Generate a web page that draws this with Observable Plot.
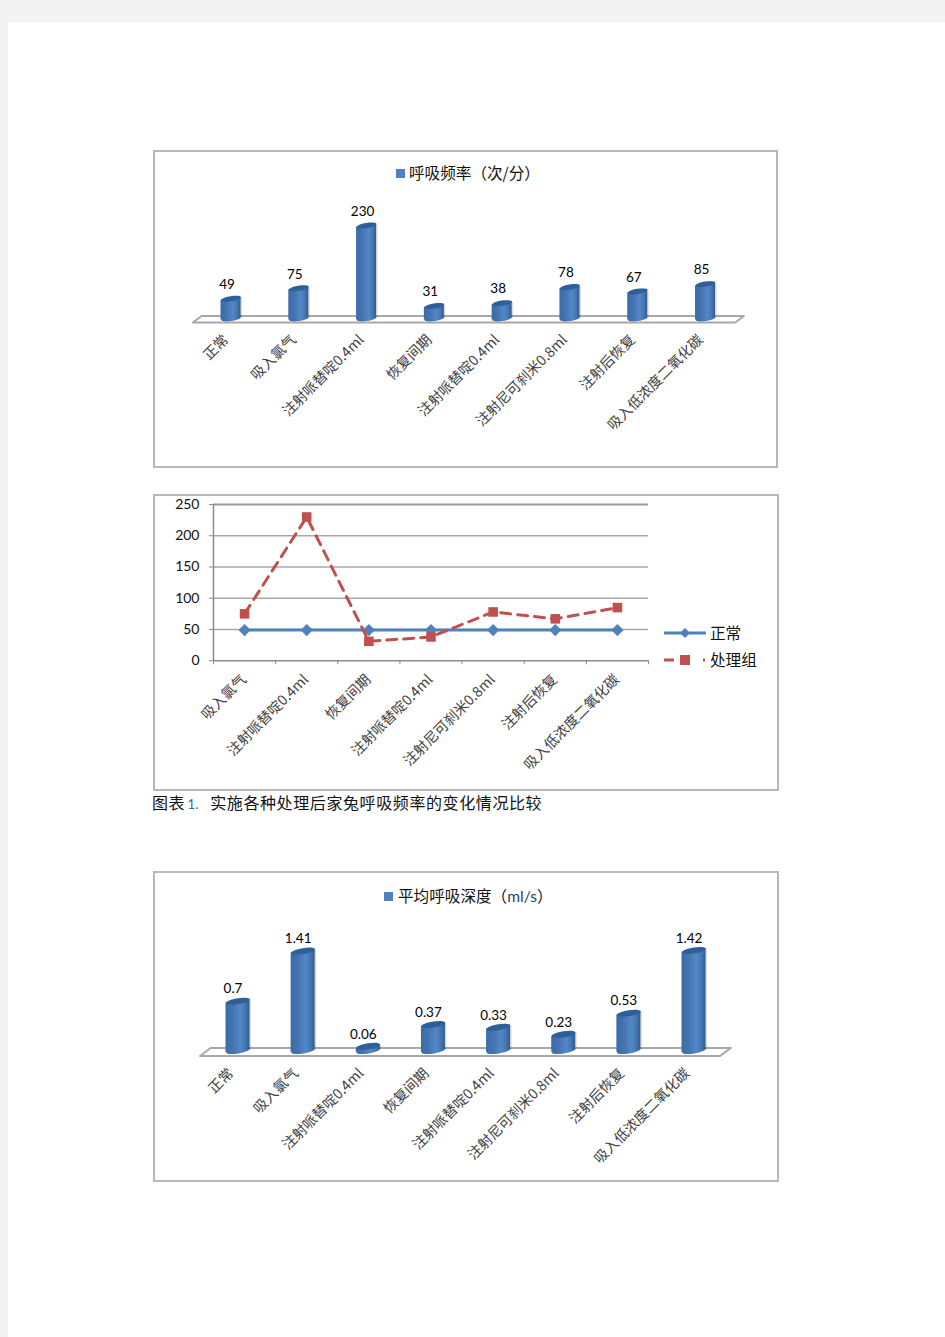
<!DOCTYPE html>
<html lang="zh-CN"><head><meta charset="utf-8">
<script src="https://cdn.jsdelivr.net/npm/d3@7"></script>
<script src="https://cdn.jsdelivr.net/npm/@observablehq/plot@0.6"></script>
<style>
html,body{margin:0;padding:0;background:#fff}
#page{position:relative;width:945px;height:1337px;background:#fff;overflow:hidden;font-family:"Noto Sans CJK SC","Noto Sans",sans-serif;color:#111;text-spacing-trim:space-all}
.band{position:absolute;background:#f3f3f3}
.frame{position:absolute;box-sizing:border-box;border:2px solid #b8b8b8;background:#fff}
.holder{position:absolute}
.legend{position:absolute;font-size:15.6px;line-height:20px;white-space:nowrap}
.sw{position:absolute;width:9px;height:9px;background:#4f81bd}
.latin{font-family:Lato,sans-serif}
svg{display:block}
</style></head><body>
<div id="page"></div>
<script>
// ---------- data ----------
const rateCategories = ["正常","吸入氯气","注射哌替啶0.4ml","恢复间期","注射哌替啶0.4ml","注射尼可刹米0.8ml","注射后恢复","吸入低浓度二氧化碳"];
const rateValues = [49,75,230,31,38,78,67,85];
const rateTitle = "呼吸频率（次/分）";

const compareCategories = ["吸入氯气","注射哌替啶0.4ml","恢复间期","注射哌替啶0.4ml","注射尼可刹米0.8ml","注射后恢复","吸入低浓度二氧化碳"];
const normalValues = [49,49,49,49,49,49,49];
const treatedValues = [75,230,31,38,78,67,85];
const compareTicks = [0,50,100,150,200,250];
const compareNames = ["正常","处理组"];

const depthCategories = ["正常","吸入氯气","注射哌替啶0.4ml","恢复间期","注射哌替啶0.4ml","注射尼可刹米0.8ml","注射后恢复","吸入低浓度二氧化碳"];
const depthValues = [0.7,1.41,0.06,0.37,0.33,0.23,0.53,1.42];

const captionHead = "图表";
const captionNum = "1.";
const captionBody = "实施各种处理后家兔呼吸频率的变化情况比较";

// ---------- helpers ----------
const page = document.getElementById("page");
const TILT = -9;
function box(cls, l, t, w, h){
  const d = document.createElement("div"); d.className = cls;
  Object.assign(d.style,{left:l+"px",top:t+"px",width:w+"px",height:h+"px"});
  page.appendChild(d); return d;
}
function ellipse(rx, ry, deg){
  const a = deg*Math.PI/180, c = Math.cos(a), s = Math.sin(a), k = 0.5523;
  const p = (x,y)=>[x*rx*c - y*ry*s, x*rx*s + y*ry*c];
  return {draw(ctx){
    ctx.moveTo(...p(1,0));
    ctx.bezierCurveTo(...p(1,k),...p(k,1),...p(0,1));
    ctx.bezierCurveTo(...p(-k,1),...p(-1,k),...p(-1,0));
    ctx.bezierCurveTo(...p(-1,-k),...p(-k,-1),...p(0,-1));
    ctx.bezierCurveTo(...p(k,-1),...p(1,-k),...p(1,0));
    ctx.closePath();
  }};
}
function gradient(id){
  return () => {
    const defs = d3.create("svg:defs");
    const g = defs.append("linearGradient").attr("id",id).attr("x1",0).attr("x2",1).attr("y1",0).attr("y2",0);
    [[0,"#3a6ca6"],[0.3,"#4374b0"],[0.62,"#5387c8"],[0.85,"#4474ae"],[1,"#2f5a8e"]]
      .forEach(([o,c])=>g.append("stop").attr("offset",o).attr("stop-color",c));
    return defs.node();
  };
}
function cylinders(opt){
  const {left,top,width,height,marginTop,marginBottom,x0,x1,cats,vals,max,half,rx,ry,floor,id,labelDx,labelDy,tickPadding,tickDx} = opt;
  const rows = vals.map((v,i)=>({i,v,low:0}));
  const unit = (height-marginBottom-marginTop)/max;                 // pixels per value unit
  const lift = rx*Math.sin(-TILT*Math.PI/180)/unit;                 // shear that matches the tilted caps
  const sides = rows.flatMap(d=>[
    {i:d.i,x:d.i-half,a:d.low-lift,b:d.v-lift},
    {i:d.i,x:d.i+half,a:d.low+lift,b:d.v+lift}
  ]);
  const holder = box("holder",left,top,width,height);
  holder.appendChild(Plot.plot({
    width,height,marginTop,marginBottom,marginLeft:0,marginRight:0,
    x:{type:"linear",domain:[0,7],range:[x0,x1],axis:null},
    y:{domain:[0,max],axis:null},
    style:{background:"transparent",overflow:"visible",fontFamily:'"Noto Sans CJK SC",sans-serif'},
    marks:[
      gradient(id),
      Plot.line(floor,{x:"x",y:"y",stroke:"#a8a8a8",strokeWidth:2}),
      Plot.area(sides,{x1:"x",y1:"a",y2:"b",z:"i",fill:"#000",fillOpacity:0.15,dx:1.5,dy:1}),
      Plot.dot(rows,{x:"i",y:"low",symbol:ellipse(rx,ry,TILT),r:5,fill:`url(#${id})`,stroke:"none"}),
      Plot.area(sides,{x1:"x",y1:"a",y2:"b",z:"i",fill:`url(#${id})`}),
      Plot.dot(rows,{x:"i",y:"v",symbol:ellipse(rx,ry,TILT),r:5,fill:"#2f5f98",stroke:"none"}),
      Plot.text(rows,{x:"i",y:"v",text:d=>String(d.v),dx:labelDx,dy:labelDy,fontSize:13.5,fontFamily:"Lato,sans-serif",fill:"#000"}),
      Plot.axisX({ticks:d3.range(8),label:null,tickSize:0,tickPadding,dx:tickDx,tickRotate:-45,tickFormat:i=>cats[i],fontSize:14.2,fill:"#404040"})
    ]
  }));
}

// ---------- page background ----------
box("band",0,0,945,22);
box("band",0,0,8,1337);

// ---------- chart 1 ----------
box("frame",153,150,625,318);
const floorRate = [{x:-0.56,y:-10},{x:-0.435,y:6},{x:7.566,y:6},{x:7.44,y:-10},{x:-0.56,y:-10}];
cylinders({left:153,top:151,width:625,height:317,marginTop:74.1,marginBottom:150,x0:77.5,x1:552,
  cats:rateCategories,vals:rateValues,max:230,half:10/67.8,rx:10,ry:2.6,floor:floorRate,id:"gr1",labelDx:-4,labelDy:-14,tickPadding:19,tickDx:-5});
{
  box("sw",396,169,9,9);
  const l = box("legend",409,162,140,20); l.textContent = rateTitle;
}

// ---------- chart 2 ----------
box("frame",153,494,626,297);
{
  const rows = compareCategories.map((c,i)=>({i,normal:normalValues[i],treated:treatedValues[i]}));
  const holder = box("holder",153,494,626,297);
  holder.appendChild(Plot.plot({
    width:626,height:297,marginLeft:60,marginRight:131,marginTop:10,marginBottom:130.8,
    x:{type:"linear",domain:[-0.5,6.5],axis:null},
    y:{domain:[0,250],axis:null},
    style:{background:"transparent",overflow:"visible",fontFamily:'"Noto Sans CJK SC",sans-serif'},
    marks:[
      Plot.ruleY(compareTicks.filter(t=>t>0&&t<250),{stroke:"#a8a8a8",strokeWidth:1.5}),
      Plot.ruleY([250],{stroke:"#999",strokeWidth:2}),
      Plot.ruleY([0],{stroke:"#8c8c8c",strokeWidth:1.5}),
      Plot.ruleX([-0.5],{stroke:"#8c8c8c",strokeWidth:1.5}),
      Plot.axisY({ticks:compareTicks,label:null,tickSize:4,tickPadding:10,stroke:"#8c8c8c",fill:"#111",fontSize:14,fontFamily:"Lato,sans-serif"}),
      Plot.axisX({ticks:d3.range(-0.5,7,1),label:null,tickSize:4,tickFormat:()=>"",stroke:"#8c8c8c"}),
      Plot.axisX({ticks:d3.range(7),label:null,tickSize:0,tickPadding:16.5,dx:-0.5,tickRotate:-45,tickFormat:i=>compareCategories[i],fontSize:14.2,fill:"#404040"}),
      Plot.line(rows,{x:"i",y:"normal",stroke:"#4f81bd",strokeWidth:3}),
      Plot.dot(rows,{x:"i",y:"normal",symbol:"diamond2",r:5.5,fill:"#4f81bd",stroke:"none"}),
      Plot.line(rows,{x:"i",y:"treated",stroke:"#c0504d",strokeWidth:3,strokeDasharray:"10 7"}),
      Plot.dot(rows,{x:"i",y:"treated",symbol:"square",r:5.4,fill:"#c0504d",stroke:"none"})
    ]
  }));
  // legend
  const k = box("holder",664,623,44,48);
  const svg = d3.select(k).append("svg").attr("width",44).attr("height",48);
  svg.append("line").attr("x1",0).attr("x2",42).attr("y1",10).attr("y2",10).attr("stroke","#4f81bd").attr("stroke-width",3);
  svg.append("path").attr("d","M21 5l5 5l-5 5l-5-5z").attr("fill","#4f81bd");
  svg.append("line").attr("x1",0).attr("x2",42).attr("y1",37).attr("y2",37).attr("stroke","#c0504d").attr("stroke-width",3).attr("stroke-dasharray","10 29 2");
  svg.append("rect").attr("x",16).attr("y",32).attr("width",10).attr("height",10).attr("fill","#c0504d");
  const a = box("legend",710,622,60,20); a.textContent = compareNames[0];
  const b = box("legend",710,649,60,20); b.textContent = compareNames[1];
}

// ---------- caption ----------
{
  const c = box("legend",152,792,420,20);
  c.style.fontSize = "16px"; c.style.letterSpacing = "0.6px";
  c.innerHTML = `${captionHead} <span class="latin" style="color:#2b6ca3;font-size:13px;margin-left:-2px">${captionNum}</span><span style="display:inline-block;width:11px"></span>${captionBody}`;
}

// ---------- chart 3 ----------
box("frame",153,871,626,311);
const floorDepth = [{x:-0.583,y:-0.078},{x:-0.42,y:0.035},{x:7.565,y:0.035},{x:7.4,y:-0.078},{x:-0.583,y:-0.078}];
cylinders({left:153,top:872,width:626,height:310,marginTop:77.9,marginBottom:132,x0:84.5,x1:540.5,
  cats:depthCategories,vals:depthValues,max:1.42,half:12/65.2,rx:12,ry:3,floor:floorDepth,id:"gr3",labelDx:-5,labelDy:-12,tickPadding:20.5,tickDx:-7});
{
  box("sw",384,892,9,9);
  const l = box("legend",398,885,160,20);
  l.innerHTML = `平均呼吸深度（<span class="latin" style="color:#1f3f66">ml/s</span>）`;
}
</script>
</body></html>
